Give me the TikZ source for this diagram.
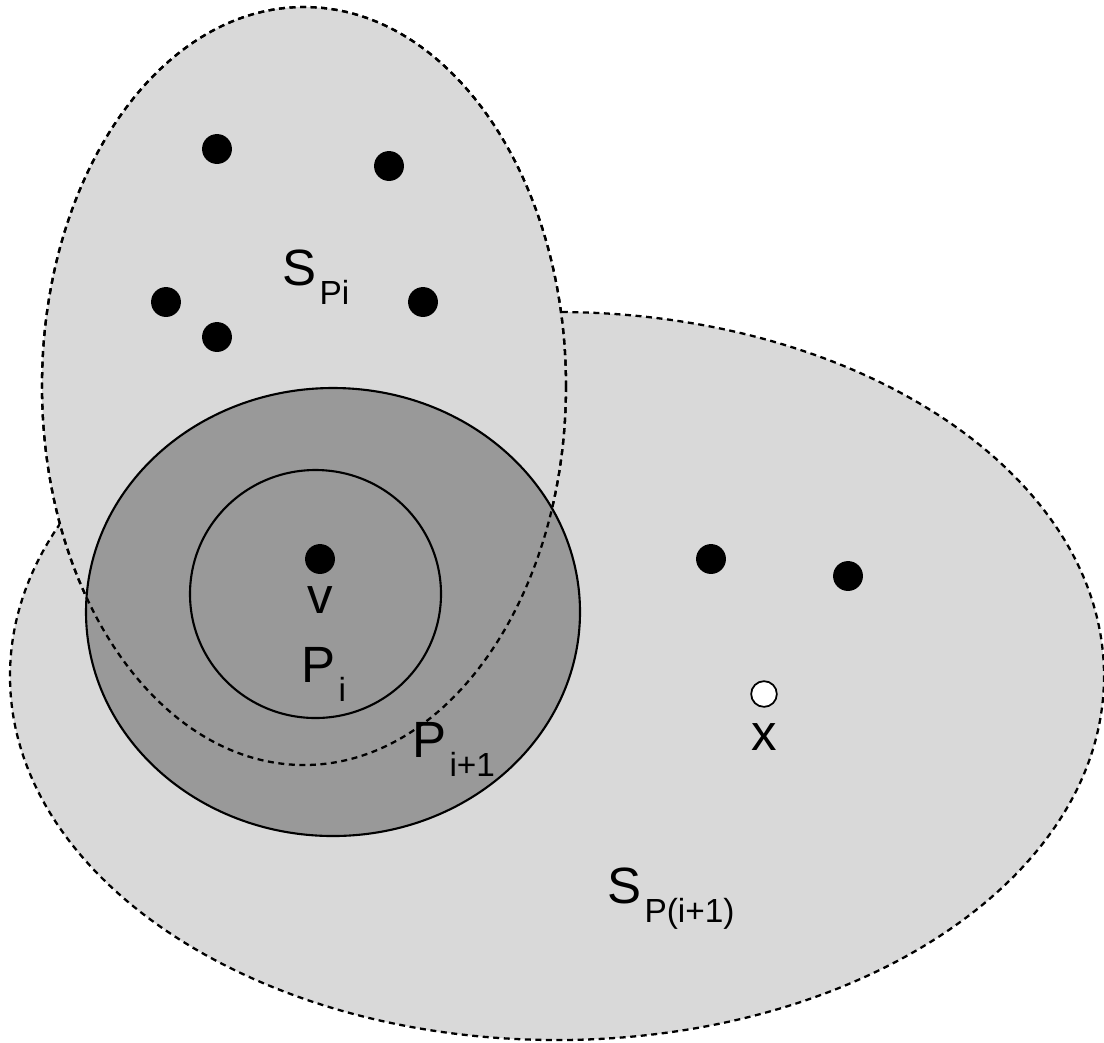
\documentclass[tikz,border=0pt]{standalone}
\usepackage{fontspec}
\setmainfont{Liberation Sans}
\newcommand{\bigtxt}{\fontsize{14.5}{16}\selectfont}
\newcommand{\subtxt}[1]{\kern0.8pt\raisebox{-5.4pt}{\fontsize{9.5}{10}\selectfont #1}}
\definecolor{lightg}{HTML}{D9D9D9}
\definecolor{darkg}{HTML}{999999}
\tikzset{
  setshape/.style={fill=lightg, draw=black, dash pattern=on 1.7pt off 1.3pt, line width=0.65pt},
  setline/.style={draw=black, dash pattern=on 1.7pt off 1.3pt, line width=0.65pt},
  ringshape/.style={fill=darkg, draw=black, line width=0.6pt},
  dotnode/.style={circle, fill=black, inner sep=0pt, minimum size=8.5pt},
  opendot/.style={circle, fill=white, draw=black, line width=0.5pt, inner sep=0pt, minimum size=7.3pt},
  lbl/.style={anchor=base west, inner sep=0pt, font=\bigtxt}
}
\begin{document}
\begin{tikzpicture}[x=0.01cm, y=-0.01cm]
\useasboundingbox (0,0) rectangle (1104,1042);
% S_P(i+1)
\path[setshape] (557,676) ellipse [x radius=547, y radius=364];
% S_Pi
\path[setshape] (304,386) ellipse [x radius=262, y radius=379];
% P_{i+1}
\path[ringshape] (333,612) ellipse [x radius=247, y radius=224];
% P_i
\path[draw=black, line width=0.6pt] (315.5,594) ellipse [x radius=125.5, y radius=124];
% dashed boundary of S_Pi over the rings
\path[setline] (304,386) ellipse [x radius=262, y radius=379];
% dots
\node[dotnode] (d1) at (217,149) {};
\node[dotnode] (d2) at (389,166) {};
\node[dotnode] (d3) at (166,302) {};
\node[dotnode] (d4) at (217,337) {};
\node[dotnode] (d5) at (423,302) {};
\node[dotnode] (v) at (320,559) {};
\node[dotnode] (d6) at (711,559) {};
\node[dotnode] (d7) at (848,576) {};
\node[opendot] (x) at (764,694) {};
% labels
\node[lbl] (lspi) at (282,285) {S\subtxt{Pi}};
\node[anchor=base, inner sep=0pt, font=\bigtxt] (lv) at (320,613) {v};
\node[lbl] (lpi) at (301,682) {P\subtxt{i}};
\node[lbl] (lpi1) at (412,757) {P\subtxt{i+1}};
\node[anchor=base, inner sep=0pt, font=\bigtxt] (lx) at (764,750) {x};
\node[lbl] (lspi1) at (607,903) {S\subtxt{P(i+1)}};
\end{tikzpicture}
\end{document}
